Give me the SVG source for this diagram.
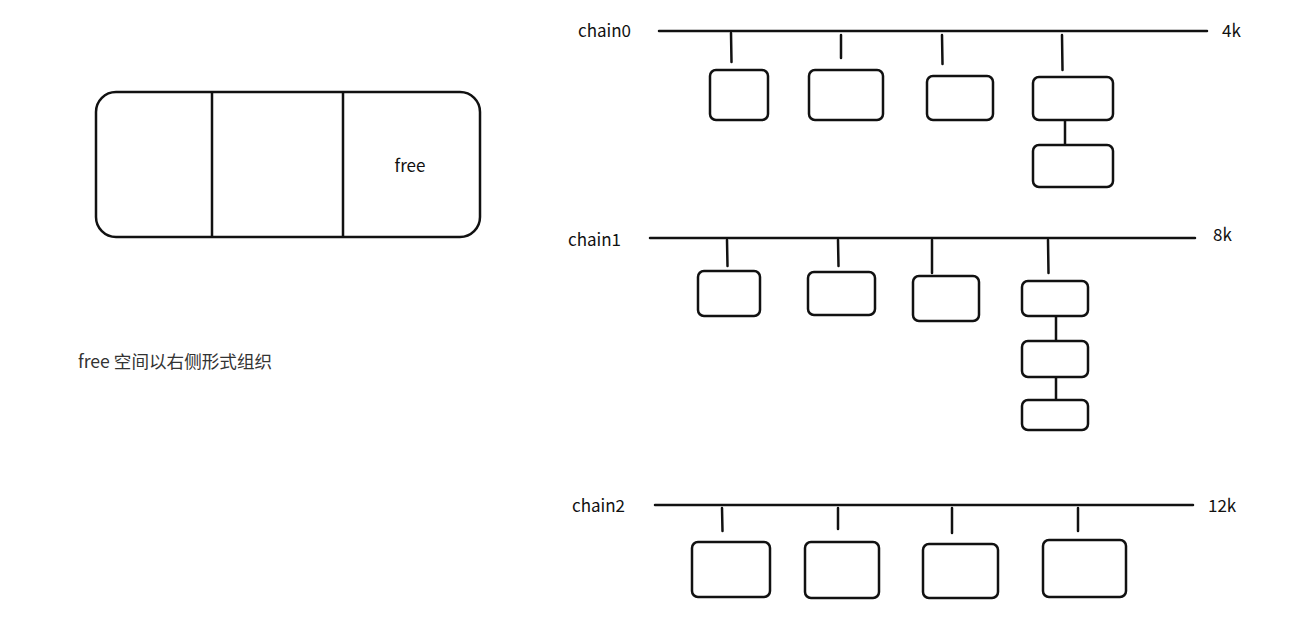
<svg xmlns="http://www.w3.org/2000/svg" width="1306" height="624" viewBox="0 0 1306 624">
<style>
.ln{stroke:#111;stroke-width:2.5;fill:none;stroke-linecap:round}
.bx{stroke:#111;stroke-width:2.5;fill:#fff}
.t{font-family:"Noto Sans CJK SC","Noto Sans",sans-serif;font-size:17px;fill:#111}
.note{font-family:"Noto Sans CJK SC","Noto Sans",sans-serif;font-size:17.6px;fill:#333}
</style>
<rect width="1306" height="624" fill="#fff"/>
<g id="memory-block">
<rect class="bx" x="96" y="92" width="384" height="145" rx="20"/>
<line class="ln" x1="212" y1="93" x2="212" y2="236"/>
<line class="ln" x1="343" y1="93" x2="343" y2="236"/>
<text class="t" x="410" y="172" text-anchor="middle">free</text>
</g>
<g id="note"><text class="note" x="78" y="368">free 空间以右侧形式组织</text></g>
<g id="labels">
<text class="t" x="578" y="37">chain0</text>
<text class="t" x="1222" y="37">4k</text>
<text class="t" x="568" y="246">chain1</text>
<text class="t" x="1213" y="241">8k</text>
<text class="t" x="572" y="512">chain2</text>
<text class="t" x="1208" y="512">12k</text>
</g>
<g id="connectors">
<line class="ln" x1="659" y1="31" x2="1207" y2="31"/>
<line class="ln" x1="731" y1="33" x2="731.5" y2="62"/>
<line class="ln" x1="841" y1="35" x2="841" y2="58"/>
<line class="ln" x1="942" y1="35" x2="942.5" y2="64"/>
<line class="ln" x1="1062" y1="35" x2="1062.5" y2="70"/>
<line class="ln" x1="1065" y1="120" x2="1065" y2="145"/>
<line class="ln" x1="650" y1="238" x2="1195" y2="238"/>
<line class="ln" x1="727" y1="240" x2="727.5" y2="266"/>
<line class="ln" x1="838" y1="240" x2="838.5" y2="266"/>
<line class="ln" x1="932" y1="240" x2="932" y2="273"/>
<line class="ln" x1="1048" y1="240" x2="1048.5" y2="273"/>
<line class="ln" x1="1056" y1="316" x2="1056" y2="341"/>
<line class="ln" x1="1056" y1="377" x2="1056" y2="400"/>
<line class="ln" x1="655" y1="505" x2="1193" y2="505"/>
<line class="ln" x1="722" y1="508" x2="722.5" y2="531"/>
<line class="ln" x1="838" y1="508" x2="838" y2="529"/>
<line class="ln" x1="952" y1="508" x2="952" y2="533"/>
<line class="ln" x1="1078" y1="508" x2="1078" y2="531"/>
</g>
<g id="chain0-nodes">
<rect class="bx" x="710" y="70" width="58" height="50" rx="6"/>
<rect class="bx" x="809" y="70" width="74" height="50" rx="6"/>
<rect class="bx" x="927" y="76" width="66" height="44" rx="6"/>
<rect class="bx" x="1033" y="77" width="80" height="43" rx="6"/>
<rect class="bx" x="1033" y="145" width="80" height="42" rx="6"/>
</g>
<g id="chain1-nodes">
<rect class="bx" x="698" y="271" width="62" height="45" rx="6"/>
<rect class="bx" x="808" y="272" width="67" height="43" rx="6"/>
<rect class="bx" x="913" y="276" width="66" height="45" rx="6"/>
<rect class="bx" x="1022" y="281" width="66" height="35" rx="6"/>
<rect class="bx" x="1022" y="341" width="66" height="36" rx="6"/>
<rect class="bx" x="1022" y="400" width="66" height="30" rx="6"/>
</g>
<g id="chain2-nodes">
<rect class="bx" x="692" y="542" width="78" height="55" rx="6"/>
<rect class="bx" x="805" y="542" width="74" height="56" rx="6"/>
<rect class="bx" x="923" y="544" width="75" height="54" rx="6"/>
<rect class="bx" x="1043" y="540" width="83" height="57" rx="6"/>
</g>
</svg>
